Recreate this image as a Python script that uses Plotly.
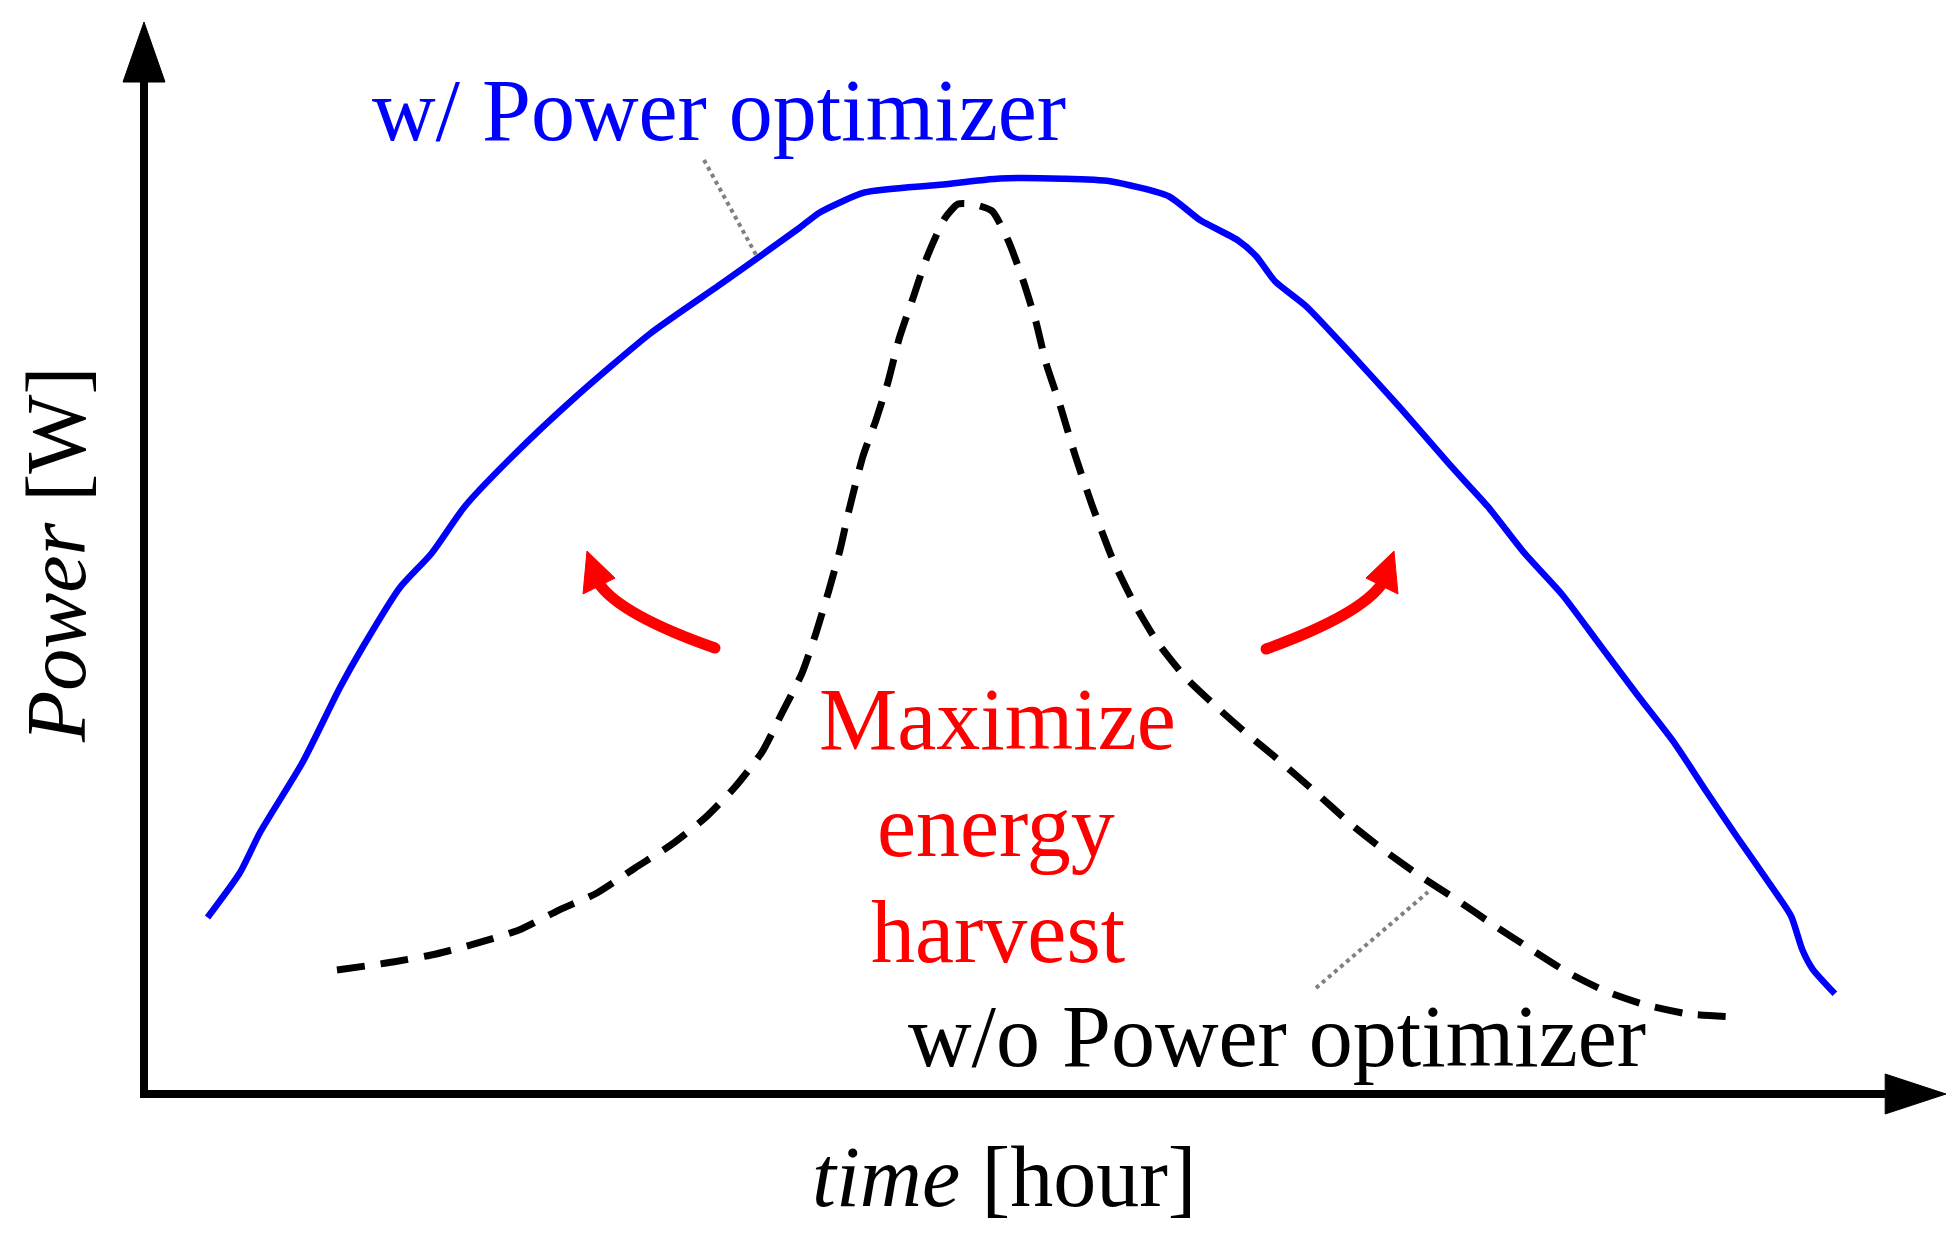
import plotly.graph_objects as go

# ---------------- data (time in hours, power in arbitrary W units) ----------------
t_opt = [0.846, 1.279, 1.545, 2.111, 2.610, 2.910, 3.409, 3.826, 4.275, 4.908, 5.740,
         6.739, 7.738, 8.737, 9.000, 9.600, 10.568, 11.400, 12.232, 12.866, 13.647, 14.064,
         14.563, 14.813, 15.063, 15.479, 16.061, 16.727, 17.393, 17.893, 18.392, 18.892,
         19.391, 19.890, 20.390, 20.806, 21.222, 21.721, 21.938, 22.088, 22.221, 22.520]
p_opt = [16.46, 20.66, 24.39, 30.92, 37.92, 41.65, 47.25, 50.40, 54.83, 59.49, 64.97,
         70.92, 75.82, 80.83, 82.23, 84.10, 84.79, 85.40, 85.38, 85.15, 83.75, 81.53,
         79.66, 78.15, 75.82, 73.48, 69.17, 64.04, 58.68, 54.83, 50.40, 46.55,
         41.88, 37.22, 32.67, 28.24, 23.93, 18.91, 16.58, 13.43, 11.68, 9.35]

t_noopt = [2.570, 3.316, 3.889, 4.448, 4.994, 5.527, 6.033, 6.539, 7.019, 7.472, 7.871,
           8.231, 8.497, 8.764, 8.950, 9.123, 9.270, 9.390, 9.576, 9.749, 9.909, 10.056,
           10.242, 10.429, 10.668, 10.841, 11.028, 11.294, 11.507, 11.707, 11.880, 12.013,
           12.200, 12.400, 12.626, 12.906, 13.199, 13.505, 13.878, 14.331, 14.677, 15.063,
           15.569, 16.089, 16.528, 16.995, 17.487, 17.954, 18.446, 18.952, 19.459, 20.005,
           20.577, 21.230]
p_noopt = [11.57, 12.31, 13.06, 14.09, 15.30, 17.16, 18.75, 21.08, 23.23, 25.75, 28.64,
           31.90, 35.54, 39.27, 43.00, 47.01, 50.75, 54.48, 59.51, 62.87, 66.42, 70.43,
           74.25, 78.08, 81.72, 83.02, 83.02, 82.37, 79.66, 75.93, 72.01, 68.19,
           64.27, 59.61, 54.94, 49.81, 45.62, 42.07, 38.81, 35.82, 33.68, 31.44,
           28.36, 25.09, 22.67, 20.34, 18.10, 15.86, 13.62, 11.38, 9.61, 8.30,
           7.46, 7.18]

label_opt = "w/ Power optimizer"
label_noopt = "w/o Power optimizer"
center_lines = ["Maximize", "energy", "harvest"]
x_title = "<i>time</i> [hour]"
y_title = "<i>Power</i> [W]"

# ---------------- layout geometry ----------------
PAGE_MARGIN = 8               # default body margin of the html page
W, H = 1960 - 2 * PAGE_MARGIN, 1241 - 2 * PAGE_MARGIN
X0_PX, X1_PX = 144 - PAGE_MARGIN, 1946 - PAGE_MARGIN   # pixels of t=0 and t=24
Y0_PX, Y1_PX = 1094 - PAGE_MARGIN, 22 - PAGE_MARGIN    # pixels of P=0 and P=100
sx = (X1_PX - X0_PX) / 24.0
sy = (Y0_PX - Y1_PX) / 100.0
xrange = [-X0_PX / sx, (W - X0_PX) / sx]
yrange = [-(H - Y0_PX) / sy, Y0_PX / sy]

FONT = "Liberation Serif, Times New Roman, serif"
BLUE = "#0000FF"
RED = "#FF0000"

fig = go.Figure()

fig.add_trace(go.Scatter(x=t_opt, y=p_opt, mode="lines",
                         line=dict(color=BLUE, width=6.5, shape="spline", smoothing=0.6),
                         hoverinfo="skip", showlegend=False))
fig.add_trace(go.Scatter(x=t_noopt, y=p_noopt, mode="lines",
                         line=dict(color="black", width=7, dash="28px,16px",
                                   shape="spline", smoothing=0.6),
                         hoverinfo="skip", showlegend=False))

shapes = []
# axes with arrow heads
ax_w = 8
shapes.append(dict(type="line", xref="x", yref="y", x0=0, y0=-4 / sy, x1=0, y1=94.4,
                   line=dict(color="black", width=ax_w)))
shapes.append(dict(type="path", xref="x", yref="y",
                   path=f"M 0 100 L {-21/sx} 94.4 L {21/sx} 94.4 Z",
                   fillcolor="black", line=dict(color="black", width=1)))
shapes.append(dict(type="line", xref="x", yref="y", x0=-4 / sx, y0=0, x1=23.19, y1=0,
                   line=dict(color="black", width=ax_w)))
shapes.append(dict(type="path", xref="x", yref="y",
                   path=f"M 24 0 L 23.19 {20/sy} L 23.19 {-20/sy} Z",
                   fillcolor="black", line=dict(color="black", width=1)))

# gray dotted leader lines
shapes.append(dict(type="line", xref="x", yref="y", x0=7.458, y0=87.13, x1=8.15, y1=78.3,
                   line=dict(color="#808080", width=4, dash="dot")))
shapes.append(dict(type="line", xref="x", yref="y", x0=15.609, y0=9.89, x1=17.101, y1=18.84,
                   line=dict(color="#808080", width=4, dash="dot")))

# curved red arrows
def curved_arrow(tail, ctrl, base, tip, c1, c2):
    shapes.append(dict(type="path", xref="x", yref="y",
                       path=f"M {tail[0]} {tail[1]} Q {ctrl[0]} {ctrl[1]} {base[0]} {base[1]}",
                       line=dict(color=RED, width=11)))
    shapes.append(dict(type="circle", xref="x", yref="y",
                       x0=tail[0] - 5.5 / sx, x1=tail[0] + 5.5 / sx,
                       y0=tail[1] - 5.5 / sy, y1=tail[1] + 5.5 / sy,
                       fillcolor=RED, line=dict(width=0)))
    shapes.append(dict(type="path", xref="x", yref="y",
                       path=f"M {tip[0]} {tip[1]} L {c1[0]} {c1[1]} L {c2[0]} {c2[1]} Z",
                       fillcolor=RED, line=dict(color=RED, width=1)))

curved_arrow((7.605, 41.60), (6.353, 44.68), (6.060, 47.6), (5.900, 50.65),
             (6.273, 48.13), (5.847, 46.64))
curved_arrow((14.944, 41.51), (16.195, 44.68), (16.488, 47.6), (16.648, 50.65),
             (16.275, 48.13), (16.701, 46.64))

S = 88
annotations = [
    dict(x=7.658, y=91.70, text=label_opt, font=dict(family=FONT, size=S, color=BLUE)),
    dict(x=15.090, y=5.41, text=label_noopt, font=dict(family=FONT, size=S, color="black")),
    dict(x=11.361, y=34.89, text=center_lines[0], font=dict(family=FONT, size=S, color=RED)),
    dict(x=11.347, y=25.00, text=center_lines[1], font=dict(family=FONT, size=S, color=RED)),
    dict(x=11.374, y=15.11, text=center_lines[2], font=dict(family=FONT, size=S, color=RED)),
    dict(x=11.467, y=-7.74, text=x_title, font=dict(family=FONT, size=86, color="black")),
    dict(x=(48 - X0_PX) / sx, y=50.28, text=y_title, textangle=-90,
         font=dict(family=FONT, size=84, color="black")),
]
for a in annotations:
    a.update(xref="x", yref="y", showarrow=False, xanchor="center", yanchor="middle")

fig.update_layout(
    width=W, height=H, autosize=False,
    margin=dict(l=0, r=0, t=0, b=0),
    paper_bgcolor="white", plot_bgcolor="white",
    xaxis=dict(range=xrange, visible=False, fixedrange=True),
    yaxis=dict(range=yrange, visible=False, fixedrange=True),
    shapes=shapes, annotations=annotations, showlegend=False,
)

fig.write_html("out.html")
